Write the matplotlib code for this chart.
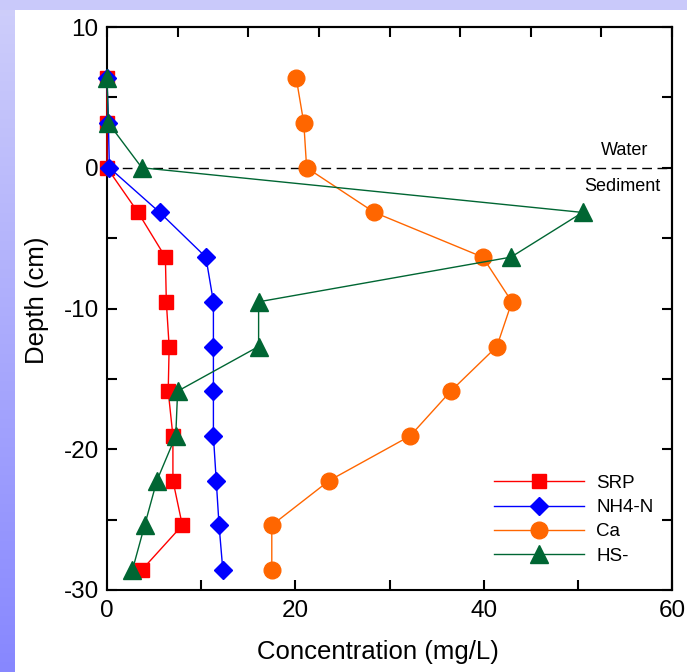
import numpy as np
import matplotlib
matplotlib.use("Agg")
import matplotlib.pyplot as plt
from matplotlib.ticker import MultipleLocator, FixedLocator, NullFormatter

plt.rcParams['font.family'] = ['Liberation Sans', 'DejaVu Sans']
plt.rcParams['axes.unicode_minus'] = False

# Depth of each sampling level (cm); positive = overlying water
depth = [6.35, 3.175, 0.0, -3.175, -6.35, -9.525, -12.7, -15.875,
         -19.05, -22.225, -25.4, -28.575]

srp = [0.0, 0.0, 0.0, 3.3, 6.2, 6.3, 6.6, 6.5, 7.0, 7.0, 8.0, 3.7]
nh4n = [0.0, 0.15, 0.25, 5.6, 10.5, 11.3, 11.3, 11.3, 11.3, 11.6, 11.9, 12.3]
ca = [20.1, 20.9, 21.2, 28.4, 39.9, 43.0, 41.4, 36.5, 32.2, 23.6, 17.5, 17.5]
hs = [0.0, 0.15, 3.7, 50.5, 42.9, 16.1, 16.1, 7.5, 7.3, 5.3, 4.0, 2.7]

series_names = ['SRP', 'NH4-N', 'Ca', 'HS-']

fig = plt.figure(figsize=(6.87, 6.72), dpi=100, facecolor='white')

# Lavender frame: gradient strip on the left, flat band on top
band = fig.add_axes([0, 0, 15 / 687, 1])
grad = np.linspace(0, 1, 256).reshape(-1, 1)
top_rgb = np.array([0.81, 0.81, 0.98])
bot_rgb = np.array([0.53, 0.53, 1.0])
img = top_rgb[None, None, :] * (1 - grad[:, :, None]) + bot_rgb[None, None, :] * grad[:, :, None]
band.imshow(img, aspect='auto', extent=[0, 1, 0, 1])
band.set_axis_off()
topband = fig.add_axes([0, 1 - 10 / 672, 1, 10 / 672])
topband.set_facecolor((0.79, 0.79, 0.98))
topband.set_xticks([]); topband.set_yticks([])
for s in topband.spines.values():
    s.set_visible(False)

ax = fig.add_axes([107 / 687, 82 / 672, 565 / 687, 563 / 672])

common = dict(lw=1.0, clip_on=False, zorder=3)
ax.plot(srp, depth, color='#ff0000', marker='s', ms=10.4, mec='#ff0000', label=series_names[0], **common)
ax.plot(nh4n, depth, color='#0000ff', marker='D', ms=9.4, mec='#0000ff', label=series_names[1], **common)
ax.plot(ca, depth, color='#ff6600', marker='o', ms=12, mec='#ff6600', label=series_names[2], **common)
ax.plot(hs, depth, color='#006633', marker='^', ms=13, mec='#006633', label=series_names[3], **common)

# Sediment-water interface
ax.axhline(0, color='black', lw=1.0, ls=(0, (7, 4)), zorder=0.5)
ax.text(57.5, 1.2, 'Water', fontsize=13, ha='right', va='center')
ax.text(58.8, -1.35, 'Sediment', fontsize=13, ha='right', va='center')

ax.set_xlim(0, 60)
ax.set_ylim(-30, 10)
ax.xaxis.set_major_locator(MultipleLocator(20))
ax.xaxis.set_minor_locator(MultipleLocator(10))
ax.yaxis.set_major_locator(MultipleLocator(10))
ax.yaxis.set_minor_locator(MultipleLocator(5))
ax.tick_params(which='both', direction='in', length=7, width=1.5, labelsize=17.5)
ax.tick_params(axis='x', which='both', top=False, pad=7)
ax.tick_params(axis='y', which='both', right=False, pad=6)
for s in ax.spines.values():
    s.set_linewidth(1.5)

secx = ax.secondary_xaxis('top')
secx.xaxis.set_major_locator(FixedLocator(np.arange(0, 60.1, 7.5)))
secx.xaxis.set_major_formatter(NullFormatter())
secx.tick_params(direction='in', length=7, width=1.5)
secx.spines['top'].set_linewidth(1.5)

secy = ax.secondary_yaxis('right')
secy.yaxis.set_major_locator(MultipleLocator(5))
secy.yaxis.set_major_formatter(NullFormatter())
secy.tick_params(direction='in', length=7, width=1.5)
secy.spines['right'].set_linewidth(1.5)

ax.set_xlabel('Concentration (mg/L)', fontsize=18.5)
ax.xaxis.set_label_coords(0.479, -0.088)
ax.set_ylabel('Depth (cm)', fontsize=18.5)
ax.yaxis.set_label_coords(-0.102, 0.515)

ax.legend(loc='upper left', bbox_to_anchor=(0.672, 0.218), frameon=False,
          fontsize=13.5, handlelength=4.8, handletextpad=0.65, labelspacing=0.38,
          borderaxespad=0)

fig.savefig('out.png', dpi=100, facecolor='white')
